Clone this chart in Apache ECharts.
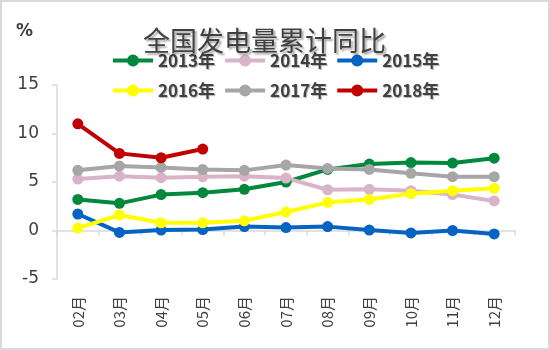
<html lang="zh">
  <head>
    <meta charset="UTF-8" />
    <title>全国发电量累计同比</title>
    <style>
      html, body { margin: 0; padding: 0; background: #fff; }
      #main { width: 550px; height: 350px; box-sizing: border-box; border: 2px solid #d9d9d9; }
    </style>
  </head>
  <body>
    <div id="main"></div>

    <script src="https://cdn.jsdelivr.net/npm/echarts@6/dist/echarts.min.js"></script>
    <script>
      // 月份
      const months = ['02月', '03月', '04月', '05月', '06月', '07月', '08月', '09月', '10月', '11月', '12月']
      // 各年累计同比（%）
      const y2013 = [3.2, 2.8, 3.7, 3.9, 4.25, 5.0, 6.3, 6.85, 7.0, 6.95, 7.45]
      const y2014 = [5.3, 5.6, 5.45, 5.55, 5.6, 5.4, 4.2, 4.25, 4.1, 3.7, 3.05]
      const y2015 = [1.7, -0.2, 0.05, 0.1, 0.4, 0.3, 0.4, 0.05, -0.25, 0.0, -0.35]
      const y2016 = [0.25, 1.6, 0.8, 0.8, 1.0, 1.9, 2.9, 3.2, 3.8, 4.1, 4.35]
      const y2017 = [6.2, 6.65, 6.5, 6.3, 6.2, 6.75, 6.4, 6.3, 5.9, 5.55, 5.55]
      const y2018 = [11.0, 7.95, 7.5, 8.4]
      const yTicks = { min: -5, max: 15, interval: 5 }

      const names = ['2013年', '2014年', '2015年', '2016年', '2017年', '2018年']
      const colors = ['#00883c', '#d9b3c7', '#0563c1', '#ffff00', '#a6a6a6', '#c00000']
      const values = [y2013, y2014, y2015, y2016, y2017, y2018]

      // 图例图标：粗线 + 圆点
      const legendIcon = 'path://M0,4H40V8H0Z M20,0A6,6,0,1,1,20,12A6,6,0,1,1,20,0Z'

      const legendText = {
        fontSize: 17,
        fontWeight: 'bold',
        color: '#404040',
        width: 66,
        fontFamily: 'Noto Sans CJK SC',
        textShadowColor: 'rgba(0,0,0,0.3)',
        textShadowOffsetX: 1,
        textShadowOffsetY: 1,
        textShadowBlur: 1
      }
      const legendBase = {
        left: 106,
        icon: legendIcon,
        itemWidth: 40,
        itemHeight: 12,
        itemGap: 10,
        textStyle: legendText
      }

      const option = {
        animation: false,
        title: {
          text: '全国发电量累计同比',
          left: 136,
          top: 20,
          textStyle: {
            fontSize: 27,
            fontWeight: 'normal',
            color: '#404040',
            fontFamily: 'Noto Sans CJK SC',
            textShadowColor: 'rgba(0,0,0,0.35)',
            textShadowOffsetX: 2,
            textShadowOffsetY: 2,
            textShadowBlur: 2
          }
        },
        legend: [
          Object.assign({}, legendBase, { top: 45, data: names.slice(0, 3) }),
          Object.assign({}, legendBase, { top: 75, data: names.slice(3) })
        ],
        graphic: [
          {
            type: 'text',
            left: 14,
            top: 21,
            style: { text: '%', fontSize: 17, fontWeight: 'bold', fill: '#404040', fontFamily: 'DejaVu Sans' }
          }
        ],
        grid: { left: 55, right: 33, top: 83, bottom: 69 },
        xAxis: [
          {
            type: 'category',
            data: months,
            axisLine: { onZero: true, lineStyle: { color: '#d9d9d9', width: 1.5 } },
            axisTick: { show: true, length: 5, lineStyle: { color: '#d9d9d9', width: 1.5 } },
            axisLabel: { show: false }
          },
          {
            type: 'category',
            data: months,
            position: 'bottom',
            axisLine: { show: false },
            axisTick: { show: false },
            axisLabel: {
              rotate: 90,
              margin: 17,
              fontSize: 15,
              color: '#404040',
              fontFamily: 'Noto Sans CJK SC'
            }
          }
        ],
        yAxis: {
          type: 'value',
          min: yTicks.min,
          max: yTicks.max,
          interval: yTicks.interval,
          splitLine: { show: false },
          axisLine: { show: true, lineStyle: { color: '#d9d9d9', width: 1.5 } },
          axisTick: { show: true, length: 5, lineStyle: { color: '#d9d9d9', width: 1.5 } },
          axisLabel: {
            margin: 18,
            fontSize: 17,
            color: '#404040',
            fontFamily: 'DejaVu Sans'
          }
        },
        series: names.map((name, i) => ({
          name: name,
          type: 'line',
          xAxisIndex: 0,
          data: values[i],
          symbol: 'circle',
          symbolSize: 11,
          color: colors[i],
          lineStyle: { width: 4, color: colors[i] },
          itemStyle: { color: colors[i] }
        }))
      }
      echarts.init(document.querySelector('#main')).setOption(option)
    </script>
  </body>
</html>
